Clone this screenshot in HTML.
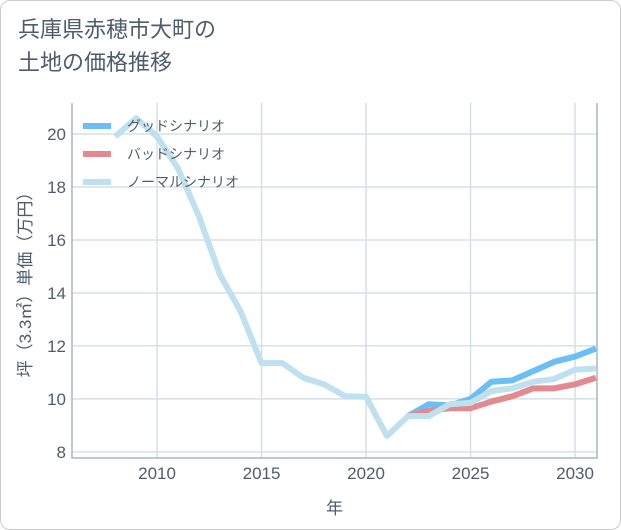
<!DOCTYPE html>
<html><head><meta charset="utf-8"><style>
body{margin:0;background:#fff;font-family:"Liberation Sans","Noto Sans CJK JP",sans-serif;}
#card{position:absolute;left:0;top:0;width:619px;height:528px;border:1px solid #ccc;border-radius:10px;background:#fff;}
#title{position:absolute;left:18px;top:13px;font-size:22px;line-height:33px;color:#4e5d6c;}
svg{position:absolute;left:0;top:0;}
</style></head><body>
<div id="card"></div>
<div id="title">兵庫県赤穂市大町の<br>土地の価格推移</div>
<svg id="chart" width="621" height="530" font-family="Liberation Sans, Noto Sans CJK JP, sans-serif"></svg>
<script>
const years=[2008,2009,2010,2011,2012,2013,2014,2015,2016,2017,2018,2019,2020,2021,2022,2023,2024,2025,2026,2027,2028,2029,2030,2031];
const normalVals=[19.9,20.6,19.9,18.7,16.9,14.7,13.3,11.35,11.35,10.8,10.55,10.1,10.08,8.6,9.35,9.35,9.8,9.85,10.3,10.4,10.65,10.75,11.1,11.15];
const futureYears=[2022,2023,2024,2025,2026,2027,2028,2029,2030,2031];
const goodVals=[9.35,9.8,9.75,10.0,10.65,10.7,11.05,11.4,11.6,11.9];
const badVals=[9.35,9.55,9.65,9.65,9.9,10.1,10.4,10.4,10.55,10.8];
const xTicks=[2010,2015,2020,2025,2030];
const yTicks=[8,10,12,14,16,18,20];
const seriesNames=["グッドシナリオ","バッドシナリオ","ノーマルシナリオ"];
const colors=["#6bbff5","#e38a90","#bfe0ee"];
const TXT='#4e5d6c';
const L=72,R=597,T=103,B=458;
const X0=2005.93,X1=2031.05,Y0=7.77,Y1=21.17;
const xs=v=>L+(v-X0)/(X1-X0)*(R-L);
const ys=v=>B-(v-Y0)/(Y1-Y0)*(B-T);
const svg=document.getElementById('chart');
const NS='http://www.w3.org/2000/svg';
function mk(t,a){const e=document.createElementNS(NS,t);for(const k in a)e.setAttribute(k,a[k]);svg.appendChild(e);return e;}
for(const t of xTicks){const l=mk('line',{x1:xs(t),x2:xs(t),y1:T,y2:B,stroke:'#d5e0ea','stroke-width':1.5});


const tx=mk('text',{x:xs(t),y:B+21,'text-anchor':'middle','font-size':17,fill:TXT});tx.textContent=t;

}
for(const t of yTicks){const l=mk('line',{x1:L,x2:R,y1:ys(t),y2:ys(t),stroke:'#d5e0ea','stroke-width':1.5});


const tx=mk('text',{x:L-6,y:ys(t)+6,'text-anchor':'end','font-size':17,fill:TXT});tx.textContent=t;

}
const ax=mk('path',{d:`M${L},${T}V${B}H${R}V${T}`,fill:'none',stroke:'#aab5c0','stroke-width':1.5});


function line(xv,yv,c,name){const d=xv.map((x,i)=>(i?'L':'M')+xs(x)+','+ys(yv[i])).join('');
const p=mk('path',{d,fill:'none',stroke:c,'stroke-width':6,'stroke-linejoin':'round'});

}
line(futureYears,goodVals,colors[0],'good-scenario-line');
line(futureYears,badVals,colors[1],'bad-scenario-line');
line(years,normalVals,colors[2],'normal-scenario-line');
seriesNames.forEach((n,i)=>{const y=126+i*28;
const l=mk('line',{x1:83,x2:111,y1:y,y2:y,stroke:colors[i],'stroke-width':6});


const t=mk('text',{x:127,y:y+5,'font-size':14,fill:TXT});t.textContent=n;

});
const xt=mk('text',{x:(L+R)/2,y:514,'text-anchor':'middle','font-size':17,fill:TXT});xt.textContent='年';


const yt=mk('text',{x:0,y:0,'text-anchor':'middle','font-size':17,fill:TXT,transform:`translate(31,${(T+B)/2}) rotate(-90)`});yt.textContent='坪（3.3㎡）単価（万円）';


</script>
</body></html>
